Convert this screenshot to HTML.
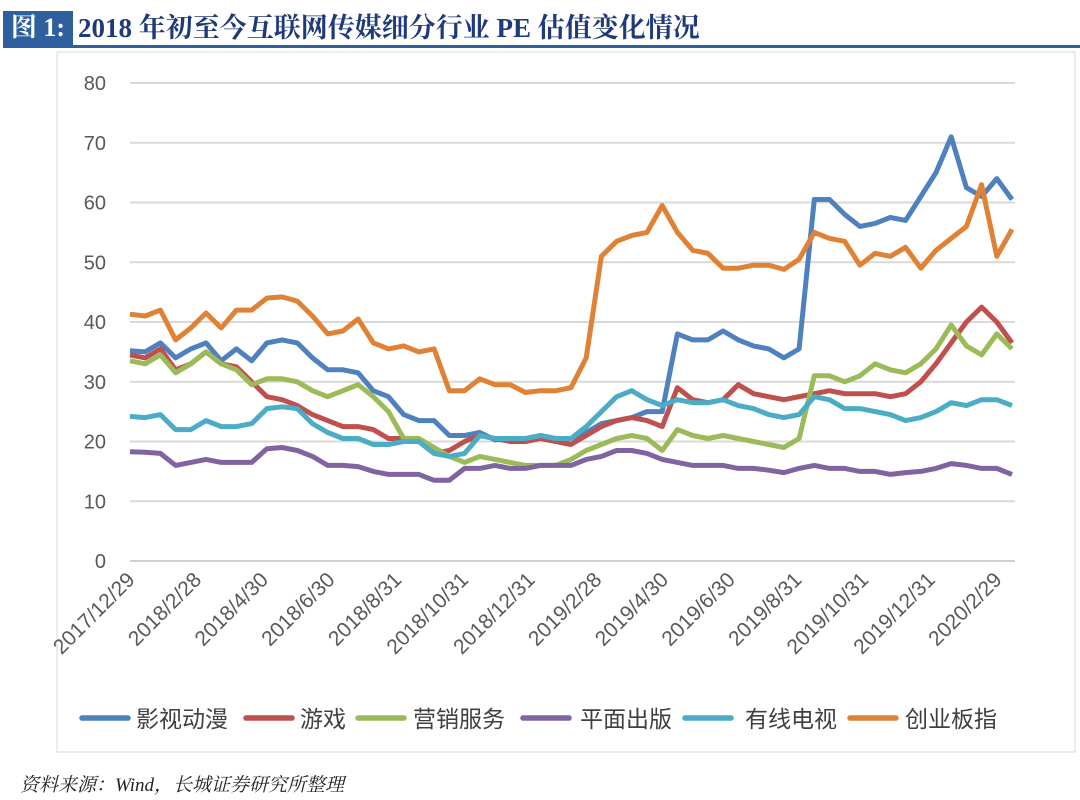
<!DOCTYPE html>
<html><head><meta charset="utf-8"><style>
body{margin:0;width:1080px;height:800px;background:#fff;position:relative;overflow:hidden;font-family:"Liberation Sans","Noto Sans CJK SC",sans-serif}
#tb{position:absolute;left:3px;top:11px;width:70px;height:34px;background:#2e5f9e;color:#fff;font:bold 26px "Liberation Serif","Noto Serif CJK SC",serif;line-height:34px;text-align:center}
#tt{position:absolute;left:78px;top:11px;color:#1f3a7a;font:bold 27px "Liberation Serif","Noto Serif CJK SC",serif;line-height:34px;white-space:nowrap}
#tl{position:absolute;left:3px;top:45px;width:1077px;height:3px;background:#2e5f9e}
#src{position:absolute;left:20px;top:770px;font:italic 19px "Liberation Serif","Noto Serif CJK SC",serif;color:#222}
</style></head><body>
<div id="tb">图 1:</div>
<div id="tt">2018 年初至今互联网传媒细分行业 PE 估值变化情况</div>
<div id="tl"></div>
<svg id="c" width="1080" height="800" style="position:absolute;left:0;top:0">
<rect x="57" y="52" width="1018" height="700" fill="none" stroke="#d9d9d9"/>
</svg>
<div id="src">资料来源：Wind，长城证券研究所整理</div>
<script>
const xLabels=["2017/12/29","2018/2/28","2018/4/30","2018/6/30","2018/8/31","2018/10/31","2018/12/31","2019/2/28","2019/4/30","2019/6/30","2019/8/31","2019/10/31","2019/12/31","2020/2/29"];
const yTicks=[0,10,20,30,40,50,60,70,80];
const seriesNames=["影视动漫","游戏","营销服务","平面出版","有线电视","创业板指"];
const seriesColors=["#4e81bd","#c0504d","#9bbb59","#8064a2","#4bacc6","#e08236"];
const film=[35.2,35,36.5,34,35.5,36.5,33.5,35.5,33.5,36.5,37,36.5,34,32,32,31.5,28.5,27.5,24.5,23.5,23.5,21,21,21.5,20.3,20.5,20.2,21,20,20.5,21.5,23,23.5,24,25,25,38,37,37,38.5,37,36,35.5,34,35.5,60.5,60.5,58,56,56.5,57.5,57,61,65,71,62.5,61,64,60.5];
const game=[34.5,34,35.5,32,33,35,33,32.5,30,27.5,27,26,24.5,23.5,22.5,22.5,22,20.5,20.5,20,18,18.5,20,21,20.5,20,20,20.5,20,19.5,21,22.5,23.5,24,23.5,22.5,29,27,26.5,27,29.5,28,27.5,27,27.5,28,28.5,28,28,28,27.5,28,30,33,36.5,40,42.5,40,36.5];
const mkt=[33.5,33,34.5,31.5,33,35,33,32,29.5,30.5,30.5,30,28.5,27.5,28.5,29.5,27.5,25,20.5,20.5,19,17.5,16.5,17.5,17,16.5,16,16,16,17,18.5,19.5,20.5,21,20.5,18.5,22,21,20.5,21,20.5,20,19.5,19,20.5,31,31,30,31,33,32,31.5,33,35.5,39.5,36,34.5,38,35.5];
const pub=[18.3,18.2,18,16,16.5,17,16.5,16.5,16.5,18.8,19,18.5,17.5,16,16,15.8,15,14.5,14.5,14.5,13.5,13.5,15.5,15.5,16,15.5,15.5,16,16,16,17,17.5,18.5,18.5,18,17,16.5,16,16,16,15.5,15.5,15.2,14.8,15.5,16,15.5,15.5,15,15,14.5,14.8,15,15.5,16.3,16,15.5,15.5,14.5];
const cable=[24.2,24,24.5,22,22,23.5,22.5,22.5,23,25.5,25.8,25.5,23,21.5,20.5,20.5,19.5,19.5,20,20,18,17.5,18,21,20.5,20.5,20.5,21,20.5,20.5,22.5,25,27.5,28.5,27,26,27,26.5,26.5,27,26,25.5,24.5,24,24.5,27.5,27,25.5,25.5,25,24.5,23.5,24,25,26.5,26,27,27,26];
const gem=[41.3,41,42,37,39,41.5,39,42,42,44,44.2,43.5,41,38,38.5,40.5,36.5,35.5,36,35,35.5,28.5,28.5,30.5,29.5,29.5,28.2,28.5,28.5,29,34,51,53.5,54.5,55,59.5,55,52,51.5,49,49,49.5,49.5,48.8,50.5,55,54,53.5,49.5,51.5,51,52.5,49,52,54,56,63,51,55.5];
const allSeries=[film,game,mkt,pub,cable,gem];
const NS="http://www.w3.org/2000/svg",svg=document.getElementById('c');
const X0=130,X1=1012,Y0=561,Y80=83;
const xs=i=>X0+(X1-X0)*i/(film.length-1);
const ys=v=>Y0-(Y0-Y80)*v/80;
const xl=i=>X0+(997-X0)*i/(xLabels.length-1);
function mk(t,a){const e=document.createElementNS(NS,t);for(const k in a)e.setAttribute(k,a[k]);svg.appendChild(e);return e;}
yTicks.forEach(v=>{
 if(v>0){const g=mk('line',{x1:X0,x2:1015,y1:ys(v),y2:ys(v),stroke:'#d9d9d9','stroke-width':2});
 
 }
 const t=mk('text',{x:106,y:ys(v)+7,'text-anchor':'end','font-size':20,fill:'#595959','font-family':'Liberation Sans'});
 t.textContent=v;
 
 
});
const ax=mk('line',{x1:X0,x2:1015,y1:Y0,y2:Y0,stroke:'#bfbfbf','stroke-width':1.5});


xLabels.forEach((s,i)=>{
 const x=xl(i);
 const ax0=x+6,ay0=Y0+20;
 const t=mk('text',{x:ax0,y:ay0,'text-anchor':'end','font-size':21,fill:'#595959','font-family':'Liberation Sans',transform:`rotate(-45 ${ax0} ${ay0})`});
 t.textContent=s;
 
 
});
allSeries.forEach((arr,k)=>{
 const p=mk('polyline',{points:arr.map((v,i)=>xs(i).toFixed(1)+','+ys(v).toFixed(1)).join(' '),fill:'none',stroke:seriesColors[k],'stroke-width':5,'stroke-linejoin':'round'});
 
 
});
const lx=[82,246,358,523,685,850],tx=[136,300,413,580,745,905];
seriesNames.forEach((n,k)=>{
 const l=mk('line',{x1:lx[k],x2:lx[k]+46,y1:718,y2:718,stroke:seriesColors[k],'stroke-width':5.5,'stroke-linecap':'round'});
 
 
 const t=mk('text',{x:tx[k],y:727,'font-size':23,fill:'#404040','font-family':'Liberation Sans, Noto Sans CJK SC, sans-serif'});
 t.textContent=n;
 
 
});
</script>
</body></html>
